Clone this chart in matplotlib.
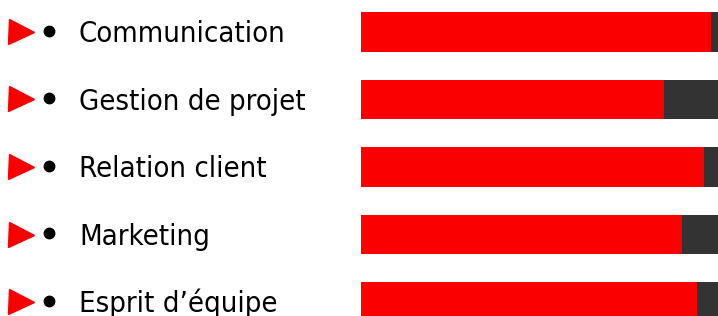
import matplotlib
matplotlib.use("Agg")
from matplotlib import pyplot as plt
from matplotlib import transforms
from matplotlib.font_manager import FontProperties

skills = ["Communication", "Gestion de projet", "Relation client", "Marketing", "Esprit d’équipe"]
levels = [98, 85, 96, 90, 94]
full = [100, 100, 100, 100, 100]

red = "#fa0000"
dark = "#333333"

label_font = FontProperties(family="DejaVu Sans", stretch="condensed", size=21)

fig = plt.figure(figsize=(7.18, 3.16), dpi=100)

# bar area on the right, rows 67.5 px apart
ax = fig.add_axes([361 / 718, 0, 357 / 718, 1])
rows = list(range(len(skills)))
ax.barh(rows, full, height=0.59, color=dark)
ax.barh(rows, levels, height=0.59, color=red)
ax.set_xlim(0, 100)
ax.set_ylim((316 - 32) / 67.5, -32 / 67.5)
ax.axis("off")

# labels on the left, x in figure fraction, y in data rows
trans = transforms.blended_transform_factory(fig.transFigure, ax.transData)
for i, name in enumerate(skills):
    ax.plot([20.5 / 718], [i], marker=">", ms=18, color=red, transform=trans,
            clip_on=False, linestyle="none")
    ax.plot([49 / 718], [i - 0.02], marker="o", ms=7.5, color="black", transform=trans,
            clip_on=False, linestyle="none")
    ax.text(79 / 718, i + 0.15, name, transform=trans, fontproperties=label_font,
            ha="left", va="baseline", color="black")

fig.savefig("out.png", dpi=100)
